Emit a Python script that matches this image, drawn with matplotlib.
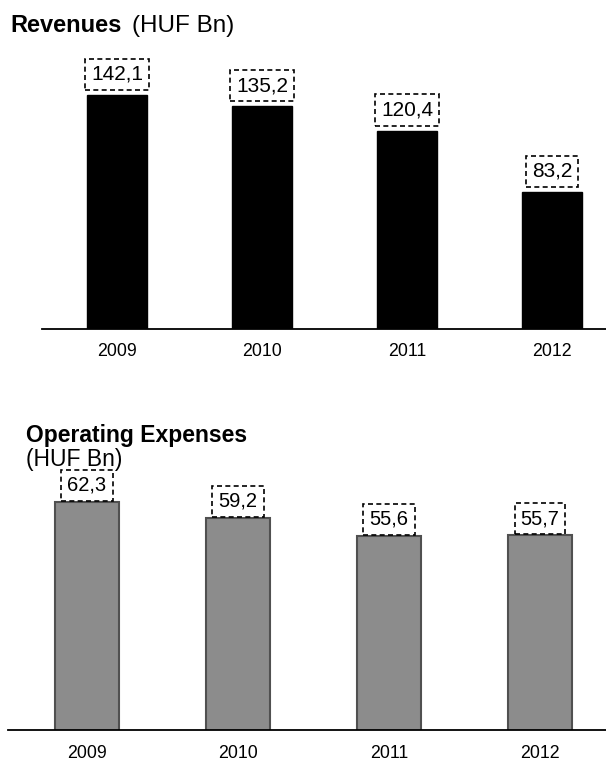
import matplotlib
matplotlib.use("Agg")
import matplotlib.pyplot as plt

plt.rcParams['font.family'] = ['Liberation Sans', 'DejaVu Sans']

years = ["2009", "2010", "2011", "2012"]
revenues = [142.1, 135.2, 120.4, 83.2]
opex = [62.3, 59.2, 55.6, 55.7]
rev_labels = ["142,1", "135,2", "120,4", "83,2"]
opex_labels = ["62,3", "59,2", "55,6", "55,7"]

W, H = 606, 765
fig = plt.figure(figsize=(W / 100, H / 100), dpi=100)

def px(x, y):
    return x / W, 1 - y / H

def setup(ax, pad):
    for s in ["top", "right", "left"]:
        ax.spines[s].set_visible(False)
    ax.spines["bottom"].set_linewidth(1.3)
    ax.spines["bottom"].set_color("black")
    ax.set_yticks([])
    ax.tick_params(axis="x", length=0, pad=pad, labelsize=12.8)

box = dict(boxstyle="square,pad=0.3", fc="white", ec="black", ls=(0, (3, 2)), lw=1.2)

# Top chart
ax1 = fig.add_axes([42 / W, 1 - 329 / H, (W - 42) / W, 269 / H])
x = range(len(years))
bars1 = ax1.bar(x, revenues, width=0.41, color="black", edgecolor="black")
ax1.set_xlim(-0.517, 3.372)
ax1.set_ylim(0, 269 / 1.647)
ax1.set_xticks(list(x))
ax1.set_xticklabels(years)
setup(ax1, 10)
for b, lab in zip(bars1, rev_labels):
    ax1.annotate(lab, (b.get_x() + b.get_width() / 2, b.get_height()),
                 xytext=(0, 8), textcoords="offset points", ha="center", va="bottom",
                 fontsize=15, bbox=box)

# Bottom chart
ax2 = fig.add_axes([8 / W, 1 - 730 / H, (W - 8) / W, 260 / H])
bars2 = ax2.bar(x, opex, width=0.42, color="#8c8c8c", edgecolor="#505050", linewidth=1.5)
ax2.set_xlim(-0.523, 3.437)
ax2.set_ylim(17.3, 17.3 + 260 / 5.07)
ax2.set_xticks(list(x))
ax2.set_xticklabels(years)
setup(ax2, 11)
for b, lab in zip(bars2, opex_labels):
    ax2.annotate(lab, (b.get_x() + b.get_width() / 2, b.get_height()),
                 xytext=(0, 5), textcoords="offset points", ha="center", va="bottom",
                 fontsize=14.5, bbox=box)

# Titles
fig.text(*px(10, 32), "Revenues", fontsize=17, fontweight="bold", va="baseline", ha="left")
fig.text(*px(132, 32), "(HUF Bn)", fontsize=17.5, va="baseline", ha="left")
fig.text(*px(26, 442), "Operating Expenses", fontsize=16.5, fontweight="bold", va="baseline", ha="left")
fig.text(*px(26, 466), "(HUF Bn)", fontsize=16.5, va="baseline", ha="left")

fig.savefig("out.png", dpi=100)
